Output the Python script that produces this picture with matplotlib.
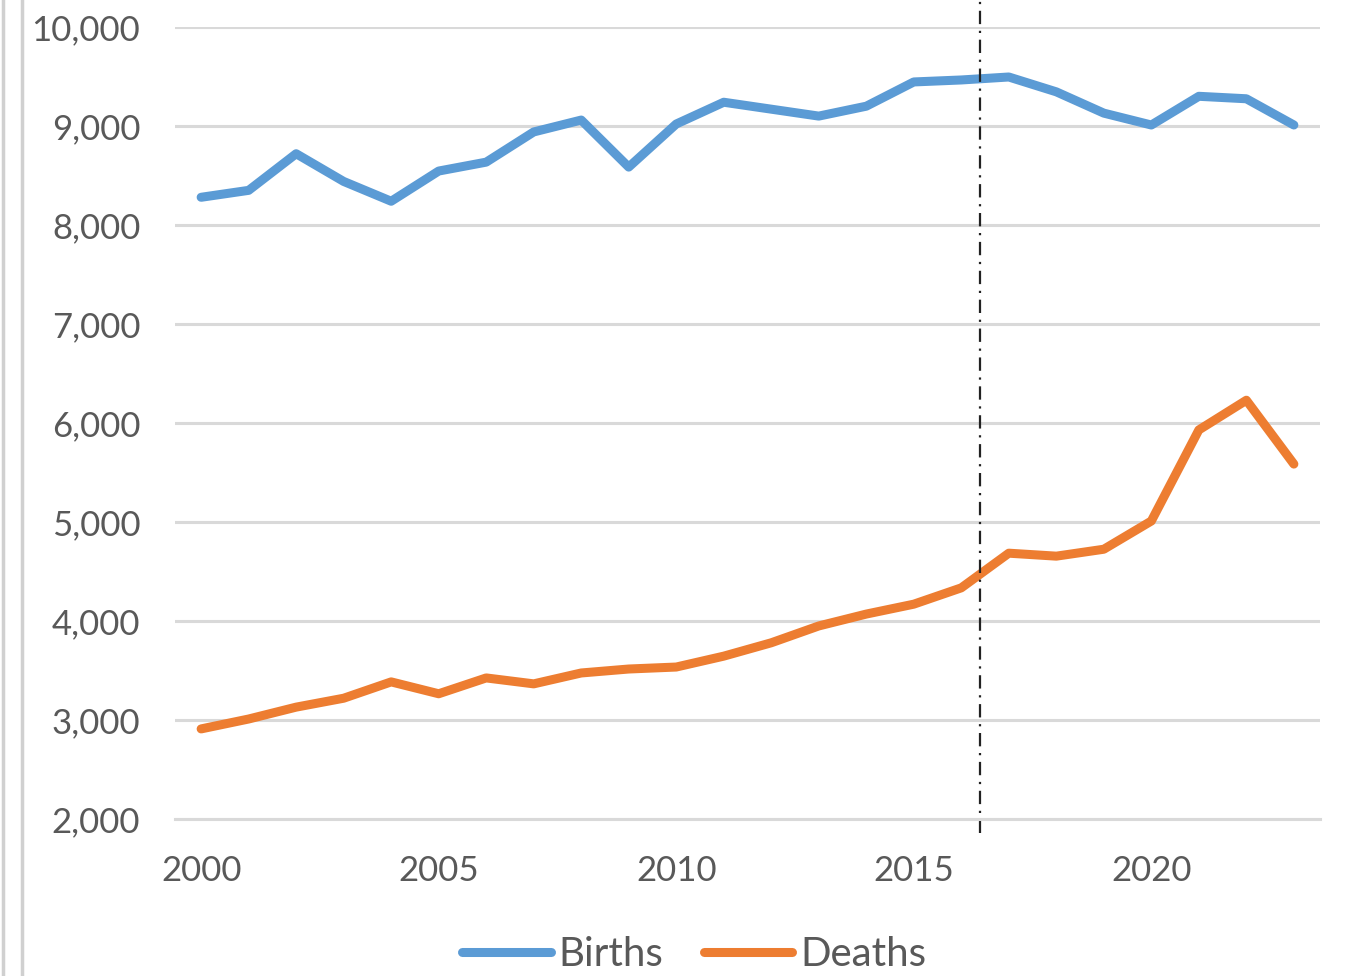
import matplotlib
matplotlib.use("Agg")
import matplotlib.pyplot as plt
from matplotlib.lines import Line2D
from matplotlib.ticker import FuncFormatter

years = list(range(2000, 2024))
births = [8280, 8350, 8720, 8440, 8240, 8545, 8635, 8940, 9060, 8585,
          9020, 9240, 9170, 9100, 9200, 9445, 9465, 9495, 9345, 9130,
          9010, 9300, 9275, 9010]
deaths = [2910, 3010, 3130, 3220, 3385, 3265, 3425, 3365, 3475, 3515,
          3535, 3645, 3780, 3950, 4070, 4170, 4335, 4685, 4655, 4725,
          5010, 5930, 6230, 5585]
marker_year = 2016.4
yticks = [2000, 3000, 4000, 5000, 6000, 7000, 8000, 9000, 10000]
xticks = [2000, 2005, 2010, 2015, 2020]

plt.rcParams["font.family"] = ["Lato", "DejaVu Sans"]
grey = "#595959"

fig = plt.figure(figsize=(13.56, 9.76), dpi=100)
ax = fig.add_axes([175/1356, 1-819/976, (1320-175)/1356, (819-27)/976])

ax.plot(years, births, color="#5B9BD5", lw=6.5, solid_joinstyle="round",
        solid_capstyle="round", label="Births")
ax.plot(years, deaths, color="#ED7D31", lw=6.5, solid_joinstyle="round",
        solid_capstyle="round", label="Deaths")
ax.axvline(marker_year, ymin=-0.018, ymax=1.04, clip_on=False, color="#222222",
           lw=1.6, ls=(0, (6, 3, 1, 3)))

ax.set_xlim(1999.45, 2023.55)
ax.set_ylim(2000, 10000)
ax.set_yticks(yticks)
ax.set_xticks(xticks)
ax.yaxis.set_major_formatter(FuncFormatter(lambda v, p: f"{int(v):,}"))
ax.grid(axis="y", color="#d9d9d9", lw=2.2)
ax.set_axisbelow(True)
for s in ["top", "right", "left"]:
    ax.spines[s].set_visible(False)
ax.spines["bottom"].set_color("#d9d9d9")
ax.spines["bottom"].set_linewidth(2.2)
ax.tick_params(length=0, labelsize=25, colors=grey)
ax.tick_params(axis="y", pad=25)
ax.tick_params(axis="x", pad=26)

fig.legend(loc="center", bbox_to_anchor=(0.512, 0.022), ncol=2, frameon=False,
           fontsize=29, handlelength=2.2, handletextpad=0.2, columnspacing=1.0,
           labelcolor=grey)

for xp in [3/1356, 22/1356]:
    fig.add_artist(Line2D([xp, xp], [0, 1], color="#d0d0d0", lw=2.5,
                          transform=fig.transFigure))

fig.savefig("out.png", dpi=100)
